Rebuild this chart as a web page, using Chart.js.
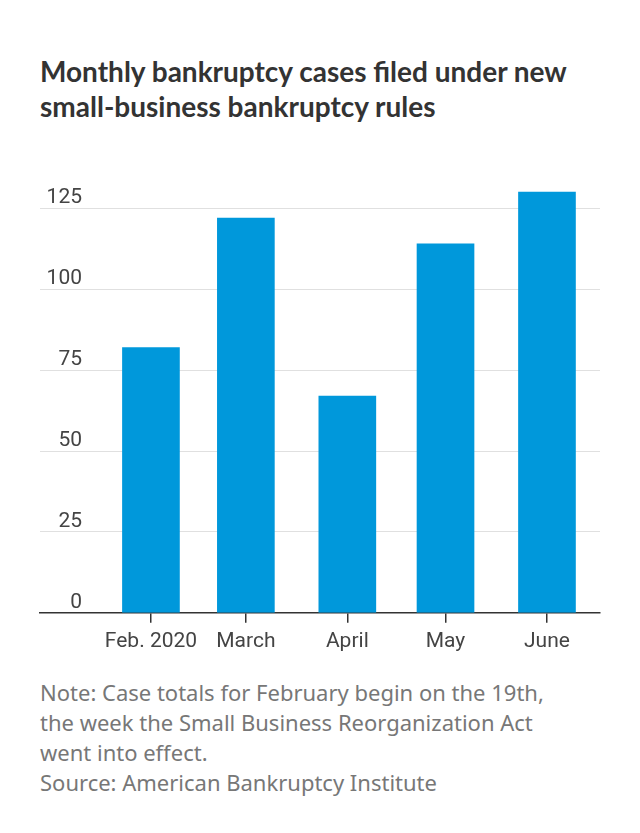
<!DOCTYPE html>
<html>
<head>
<meta charset="utf-8">
<script src="https://cdn.jsdelivr.net/npm/chart.js@4"></script>
<style>
  html, body { margin: 0; padding: 0; background: #fff; }
  body { width: 640px; height: 833px; position: relative; overflow: hidden; }
  #title {
    position: absolute; left: 40px; top: 54px; width: 600px; white-space: nowrap;
    font-family: Lato, "Noto Sans", sans-serif; font-weight: 700;
    font-size: 28px; line-height: 35px; color: #333;
  }
  #chart-box { position: absolute; left: 0; top: 160px; width: 640px; height: 510px; }
  #notes {
    position: absolute; left: 40px; top: 677px; width: 600px; white-space: nowrap;
    font-family: "Noto Sans", "Open Sans", sans-serif;
    font-size: 22px; line-height: 30px; color: #777;
  }
</style>
</head>
<body>
<div id="title">Monthly bankruptcy cases filed under new<br>small-business bankruptcy rules</div>
<div id="chart-box"><canvas id="chart"></canvas></div>
<div id="notes">Note: Case totals for February begin on the 19th,<br>the week the Small Business Reorganization Act<br>went into effect.<br>Source: American Bankruptcy Institute</div>

<script>
// Months, placed on a day-of-year axis (2020) so spacing follows month length
const months = ['Feb. 2020', 'March', 'April', 'May', 'June'];
const monthStartDay = [31, 60, 91, 121, 152];
const cases = [82, 122, 67, 114, 130];
const yTicks = [0, 25, 50, 75, 100, 125];

const axisFont = "Roboto, 'Noto Sans', sans-serif";

// Draw y labels above their gridlines, right-aligned
const yLabelPlugin = {
    id: 'yLabels',
    afterDraw(chart) {
        const ctx = chart.ctx;
        const y = chart.scales.y;
        ctx.save();
        ctx.font = '21px ' + axisFont;
        ctx.fillStyle = '#444';
        ctx.textAlign = 'right';
        ctx.textBaseline = 'alphabetic';
        y.ticks.forEach(t => {
            ctx.fillText(String(t.value), 82, y.getPixelForValue(t.value) - 5);
        });
        ctx.restore();
    }
};

const ctx = document.getElementById('chart').getContext('2d');
new Chart(ctx, {
    type: 'bar',
    data: {
        datasets: [{
            data: monthStartDay.map((d, i) => ({ x: d, y: cases[i] })),
            backgroundColor: '#0098db',
            borderWidth: 0,
            barThickness: 57
        }]
    },
    options: {
        responsive: true,
        maintainAspectRatio: false,
        animation: false,
        layout: { padding: { left: 40, right: 40, top: 16, bottom: 10 } },
        plugins: {
            legend: { display: false },
            tooltip: { enabled: false }
        },
        scales: {
            x: {
                type: 'linear',
                offset: false,
                min: -2.9,
                max: 168.2,
                afterBuildTicks: scale => {
                    scale.ticks = monthStartDay.map(v => ({ value: v }));
                },
                grid: {
                    offset: false,
                    drawOnChartArea: false,
                    drawTicks: true,
                    tickLength: 10,
                    color: '#333',
                    lineWidth: 1.5
                },
                border: { display: true, color: '#333', width: 1.5 },
                ticks: {
                    autoSkip: false,
                    maxRotation: 0,
                    padding: 6,
                    color: '#444',
                    font: { family: axisFont, size: 21 },
                    callback: value => months[monthStartDay.indexOf(value)]
                }
            },
            y: {
                min: 0,
                max: 135,
                afterBuildTicks: scale => {
                    scale.ticks = yTicks.map(v => ({ value: v }));
                },
                grid: {
                    drawTicks: false,
                    color: c => c.tick && c.tick.value === 0 ? 'rgba(0,0,0,0)' : '#e0e0e0',
                    lineWidth: 1
                },
                border: { display: false },
                ticks: { display: false }
            }
        }
    },
    plugins: [yLabelPlugin]
});
</script>
</body>
</html>
